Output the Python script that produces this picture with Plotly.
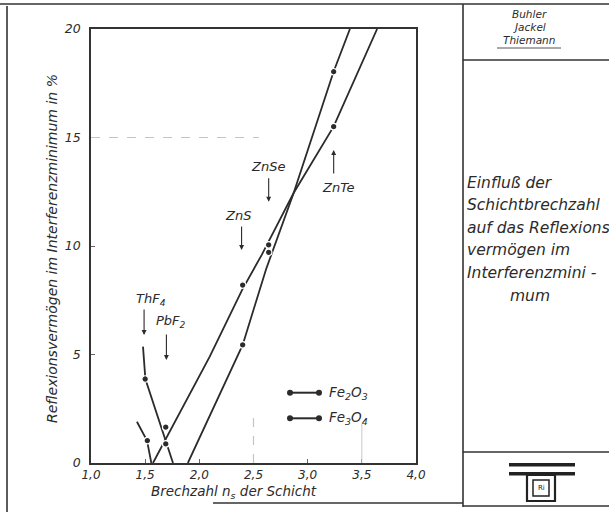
import plotly.graph_objects as go

# ---------------- data ----------------
x_ticks = [1.0, 1.5, 2.0, 2.5, 3.0, 3.5, 4.0]
x_ticktext = ["1,0", "1,5", "2,0", "2,5", "3,0", "3,5", "4,0"]
y_ticks = [0, 5, 10, 15, 20]

# Fe2O3 : descending branch + ascending branch (drawn curves)
fe2o3_desc_x = [1.48, 1.502, 1.757]
fe2o3_desc_y = [5.36, 3.87, 0.0]
fe2o3_asc_x = [1.894, 2.40, 2.616, 2.87, 3.239, 3.39]
fe2o3_asc_y = [0.0, 5.44, 8.93, 12.43, 18.03, 20.0]
# Fe2O3 measured points
fe2o3_pts_x = [1.50, 1.69, 2.40, 2.64, 3.24]
fe2o3_pts_y = [3.87, 0.88, 5.44, 9.71, 18.03]

# Fe3O4 : descending branch + ascending branch (drawn curves)
fe3o4_desc_x = [1.424, 1.517, 1.557]
fe3o4_desc_y = [1.90, 1.03, 0.0]
fe3o4_asc_x = [1.572, 2.097, 2.394, 2.576, 2.869, 3.239, 3.641]
fe3o4_asc_y = [0.0, 4.91, 7.97, 9.59, 12.43, 15.5, 20.0]
# Fe3O4 measured points
fe3o4_pts_x = [1.52, 1.69, 2.40, 2.64, 3.24]
fe3o4_pts_y = [1.03, 1.65, 8.20, 10.05, 15.5]

# material labels: (text, label x, label y, arrow x, tail y, head y)
materials = ["ThF<sub>4</sub>", "PbF<sub>2</sub>", "ZnS", "ZnSe", "ZnTe"]
mat_text_x = [1.555, 1.736, 2.36, 2.634, 3.278]
mat_text_y = [7.55, 6.50, 11.42, 13.68, 12.70]
mat_arrow_x = [1.49, 1.696, 2.39, 2.64, 3.24]
mat_arrow_tail = [7.14, 5.99, 10.97, 13.19, 13.27]
mat_arrow_head = [5.90, 4.75, 9.82, 12.04, 14.42]

legend_names = ["Fe<sub>2</sub>O<sub>3</sub>", "Fe<sub>3</sub>O<sub>4</sub>"]

# ---------------- layout helpers ----------------
W, H = 609, 512
L, R, T, B = 91, 416, 29, 463
FONT = "DejaVu Sans"
INK = "#2b2b2b"


def px(x):
    return (x - L) / (R - L)


def py(y):
    return (B - y) / (B - T)


def font(size, color=INK, italic=True):
    d = dict(family=FONT, size=size, color=color)
    if italic:
        d["style"] = "italic"
    return d


fig = go.Figure()

line_style = dict(color=INK, width=1.8)
marker_style = dict(color=INK, size=6.5, line=dict(color="white", width=1.2))

for xs, ys in [(fe2o3_desc_x, fe2o3_desc_y), (fe2o3_asc_x, fe2o3_asc_y)]:
    fig.add_trace(go.Scatter(x=xs, y=ys, mode="lines", line=line_style,
                             showlegend=False, hoverinfo="skip"))
for xs, ys in [(fe3o4_desc_x, fe3o4_desc_y), (fe3o4_asc_x, fe3o4_asc_y)]:
    fig.add_trace(go.Scatter(x=xs, y=ys, mode="lines", line=line_style,
                             showlegend=False, hoverinfo="skip"))
fig.add_trace(go.Scatter(x=fe2o3_pts_x, y=fe2o3_pts_y, mode="markers",
                         marker=marker_style, name="Fe2O3", showlegend=False))
fig.add_trace(go.Scatter(x=fe3o4_pts_x, y=fe3o4_pts_y, mode="markers",
                         marker=marker_style, name="Fe3O4", showlegend=False))

ann = []
shapes = []


def text_px(x, y, t, size, xanchor="center", **kw):
    ann.append(dict(x=px(x), y=py(y), xref="paper", yref="paper", text=t,
                    xanchor=xanchor, yanchor="middle", showarrow=False,
                    font=font(size, **kw.pop("fkw", {})), **kw))


# material labels with arrows
for t, tx, ty, axx, tail, head in zip(materials, mat_text_x, mat_text_y,
                                       mat_arrow_x, mat_arrow_tail, mat_arrow_head):
    ann.append(dict(x=tx, y=ty, xref="x", yref="y", text=t, showarrow=False,
                    xanchor="center", yanchor="middle", font=font(13)))
    ann.append(dict(x=axx, y=head, ax=axx, ay=tail, xref="x", yref="y",
                    axref="x", ayref="y", text="", showarrow=True,
                    arrowhead=2, arrowsize=0.9, arrowwidth=1.1, arrowcolor=INK))

# manual legend (line with dots at both ends)
leg_y_px = [392.7, 418.3]
for name, ly in zip(legend_names, leg_y_px):
    shapes.append(dict(type="line", xref="paper", yref="paper",
                       x0=px(290), x1=px(319), y0=py(ly), y1=py(ly),
                       line=dict(color=INK, width=2)))
    for cx in (290, 319):
        shapes.append(dict(type="circle", xref="paper", yref="paper",
                           x0=px(cx - 3), x1=px(cx + 3), y0=py(ly - 3), y1=py(ly + 3),
                           fillcolor=INK, line=dict(color=INK, width=0)))
    text_px(327, ly, name, 13.5, xanchor="left")

# faint grid remnants
shapes.append(dict(type="line", xref="x", yref="y", x0=1.0, x1=2.55, y0=15, y1=15,
                   line=dict(color="#c4c4c4", width=1.2, dash="dash")))
shapes.append(dict(type="line", xref="x", yref="y", x0=2.5, x1=2.5, y0=0, y1=2.3,
                   line=dict(color="#c4c4c4", width=1.2, dash="dash")))
shapes.append(dict(type="line", xref="x", yref="y", x0=3.5, x1=3.5, y0=0, y1=1.8,
                   line=dict(color="#c8c8c8", width=1)))

# axis titles
text_px(234, 492, "Brechzahl n<sub>s</sub> der Schicht", 13.5)
text_px(52, 249, "Reflexionsvermögen im Interferenzminimum in %", 14, textangle=-90)

# outer frame
frame = [
    (0, 4, 609, 4),
    (7, 6, 7, 512),
    (463, 4, 463, 507),
    (463, 60, 609, 60),
    (463, 452, 609, 452),
    (463, 506, 609, 506),
    (213, 503, 463, 503),
]
for x0, y0, x1, y1 in frame:
    shapes.append(dict(type="line", xref="paper", yref="paper",
                       x0=px(x0), x1=px(x1), y0=py(y0), y1=py(y1),
                       line=dict(color="#333333", width=1.6)))

# right panel text
for t, yy in [("Buhler", 14), ("Jackel", 27), ("Thiemann", 40)]:
    text_px(529, yy, t, 10.5)
shapes.append(dict(type="line", xref="paper", yref="paper",
                   x0=px(497), x1=px(561), y0=py(48), y1=py(48),
                   line=dict(color="#555555", width=1)))

panel_lines = [("Einfluß der", 183), ("Schichtbrechzahl", 205),
               ("auf das Reflexions", 228), ("vermögen im", 250),
               ("Interferenzmini -", 273)]
for t, yy in panel_lines:
    text_px(465, yy, t, 15.5, xanchor="left")
text_px(530, 296, "mum", 15.5)

# logo
for y0, y1 in [(463, 466.5), (472, 475.5)]:
    shapes.append(dict(type="rect", xref="paper", yref="paper",
                       x0=px(509), x1=px(575), y0=py(y0), y1=py(y1),
                       fillcolor="#222222", line=dict(width=0)))
shapes.append(dict(type="rect", xref="paper", yref="paper",
                   x0=px(527), x1=px(555), y0=py(475), y1=py(501),
                   line=dict(color="#222222", width=2.2)))
shapes.append(dict(type="rect", xref="paper", yref="paper",
                   x0=px(533), x1=px(549), y0=py(480), y1=py(496),
                   line=dict(color="#222222", width=1.5)))
text_px(541, 488, "Ri", 7, fkw=dict(color="#222222", italic=False))

fig.update_layout(
    width=W, height=H, autosize=False,
    margin=dict(l=L, r=W - R, t=T, b=H - B),
    paper_bgcolor="white", plot_bgcolor="white",
    showlegend=False,
    annotations=ann, shapes=shapes,
    xaxis=dict(range=[1.0, 4.0], tickvals=x_ticks, ticktext=x_ticktext,
               showgrid=False, zeroline=False, showline=True, mirror=True,
               linecolor="#333333", linewidth=2, ticks="inside", ticklen=4,
               tickcolor="#666666", tickfont=font(12)),
    yaxis=dict(range=[0, 20], tickvals=y_ticks,
               showgrid=False, zeroline=False, showline=True, mirror=True,
               linecolor="#333333", linewidth=1.6, ticks="inside", ticklen=4,
               tickcolor="#666666", ticklabelstandoff=6, tickfont=font(12.5)),
)

fig.write_html("out.html", config={"displayModeBar": False},
               post_script="document.body.style.margin='0';"
                           "document.body.style.padding='0';")
